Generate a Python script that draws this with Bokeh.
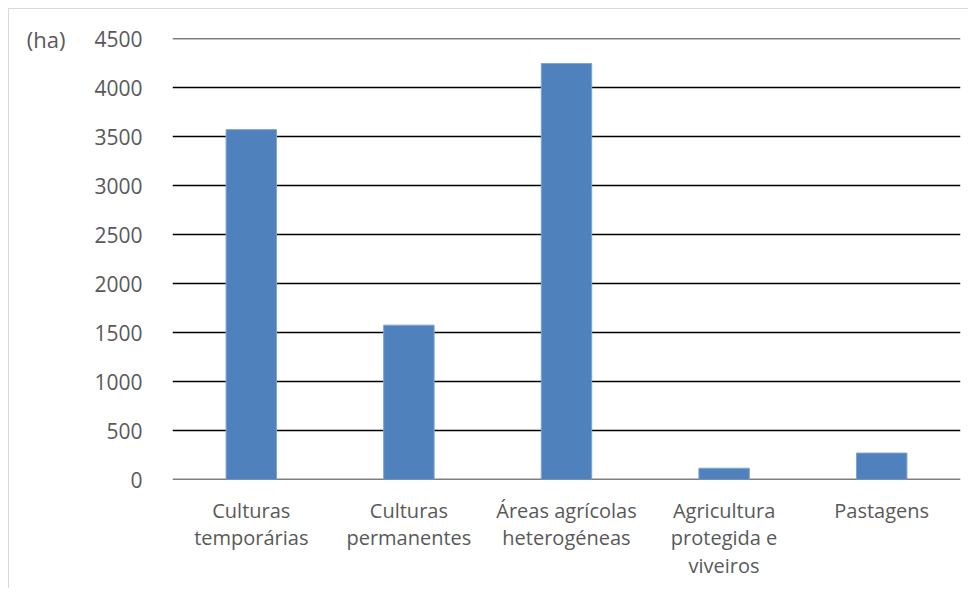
from bokeh.plotting import figure
from bokeh.models import FactorRange, Range1d, FixedTicker, LinearAxis, ColumnDataSource
from bokeh.embed import file_html
from bokeh.resources import INLINE

categories = ["Culturas\ntemporárias", "Culturas\npermanentes", "Áreas agrícolas\nheterogéneas",
              "Agricultura\nprotegida e\nviveiros", "Pastagens"]
values = [3570, 1575, 4245, 115, 270]
y_ticks = [0, 500, 1000, 1500, 2000, 2500, 3000, 3500, 4000, 4500]
unit_label = "(ha)"

FONT = "Open Sans"
TEXT_COLOR = "#595959"

p = figure(width=960, height=580, x_range=FactorRange(*categories, range_padding=0),
           y_range=Range1d(0, 4500), output_backend="svg", toolbar_location=None,
           min_border_left=163, min_border_right=9, min_border_top=29, min_border_bottom=110)
p.styles = {"margin-left": "8px", "margin-top": "8px",
            "border-left": "1px solid #D9D9D9", "border-top": "1px solid #D9D9D9"}
p.outline_line_color = None
p.background_fill_color = "white"

p.hspan(y=y_ticks, line_color="black", line_width=1.5)

src = ColumnDataSource(dict(x=categories, top=values))
p.vbar(x="x", top="top", width=0.32, source=src, fill_color="#4F81BD", line_color="#7EA3D2", line_width=1)

p.xgrid.grid_line_color = None
p.ygrid.grid_line_color = None

p.yaxis.ticker = FixedTicker(ticks=y_ticks)
unit_axis = LinearAxis(ticker=FixedTicker(ticks=[y_ticks[-1]]),
                       major_label_overrides={y_ticks[-1]: unit_label})
p.add_layout(unit_axis, "left")

for ax in (p.xaxis[0], p.yaxis[0], unit_axis):
    ax.axis_line_color = None
    ax.major_tick_line_color = None
    ax.minor_tick_line_color = None
    ax.major_label_text_font = FONT
    ax.major_label_text_color = TEXT_COLOR
p.yaxis[0].major_label_text_font_size = "21px"
unit_axis.major_label_text_font_size = "22px"
p.xaxis.major_label_text_font_size = "20px"
p.yaxis[0].major_label_standoff = 24
unit_axis.major_label_standoff = 20
p.xaxis.major_label_standoff = 11
p.xaxis.major_label_text_line_height = 1.03

open("out.html", "w").write(file_html(p, INLINE))
